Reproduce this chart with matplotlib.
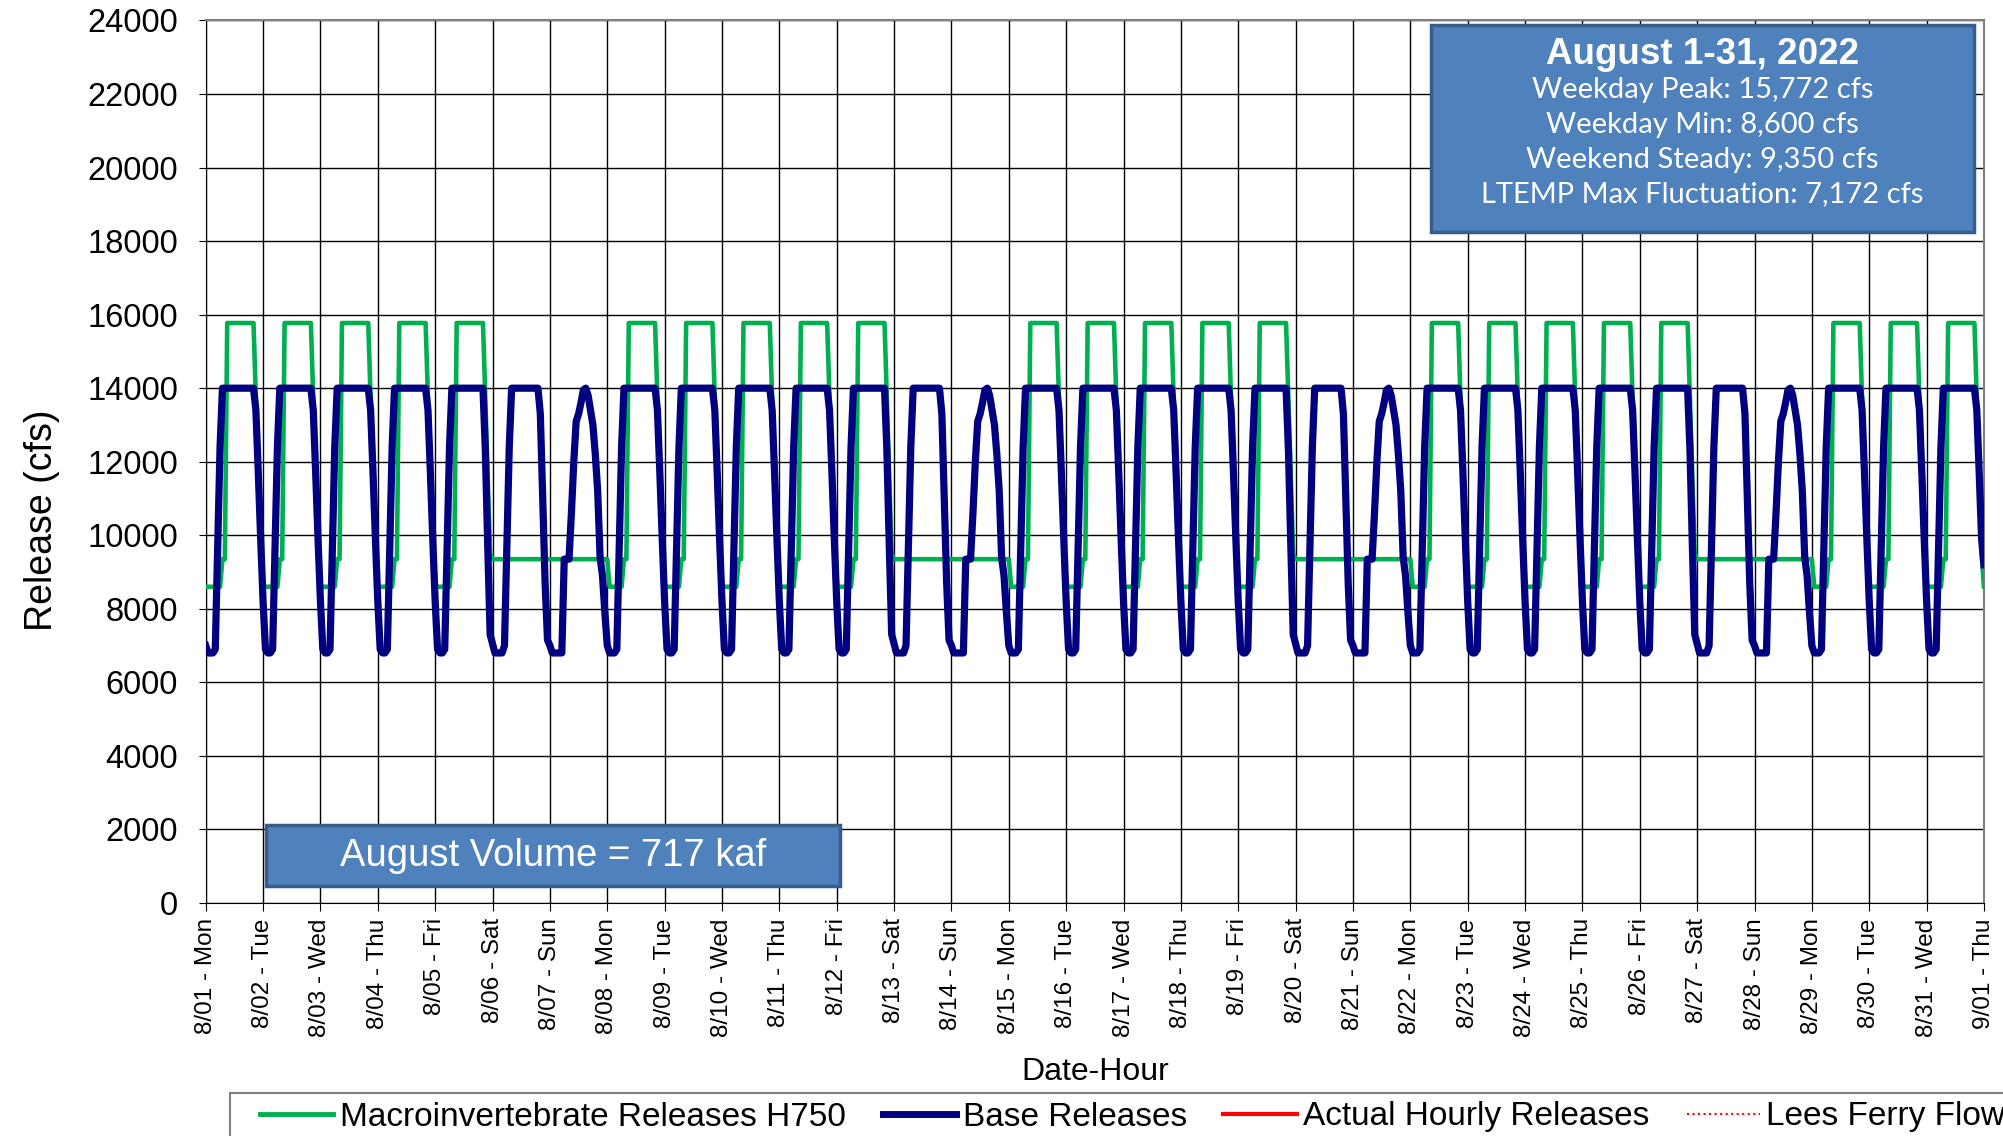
import numpy as np
import pandas as pd
import matplotlib
matplotlib.use("Agg")
import matplotlib.pyplot as plt
from matplotlib.lines import Line2D
from matplotlib.patches import Rectangle

plt.rcParams['font.family'] = ['Liberation Sans', 'DejaVu Sans']

# hourly release profiles (cfs), hours 0..23
green_weekday = [8600, 8600, 8600, 8600, 8600, 8600, 8600, 9350, 9350, 15772, 15772, 15772,
                 15772, 15772, 15772, 15772, 15772, 15772, 15772, 15772, 15772, 13700, 11500, 9500]
green_monday = [9350, 8600, 8600, 8600, 8600, 8600, 8600, 9350, 9350, 15772, 15772, 15772,
                15772, 15772, 15772, 15772, 15772, 15772, 15772, 15772, 15772, 13700, 11500, 9500]
green_weekend = [9350, 9350, 9350, 9350, 9350, 9350, 9350, 9350, 9350, 9350, 9350, 9350,
                 9350, 9350, 9350, 9350, 9350, 9350, 9350, 9350, 9350, 9350, 9350, 9350]

blue_weekday = [8200, 6900, 6800, 6800, 6900, 9600, 12400, 14000, 14000, 14000, 14000, 14000,
                14000, 14000, 14000, 14000, 14000, 14000, 14000, 14000, 14000, 13400, 11700, 9900]
blue_monday = [7000, 6800, 6800, 6800, 6900, 9600, 12400, 14000, 14000, 14000, 14000, 14000,
               14000, 14000, 14000, 14000, 14000, 14000, 14000, 14000, 14000, 13400, 11700, 9900]
blue_friday = [8200, 6900, 6800, 6800, 6900, 9600, 12400, 14000, 14000, 14000, 14000, 14000,
               14000, 14000, 14000, 14000, 14000, 14000, 14000, 14000, 14000, 12300, 9700, 7300]
blue_saturday = [7050, 6800, 6800, 6800, 6800, 7000, 9700, 12400, 14000, 14000, 14000, 14000,
                 14000, 14000, 14000, 14000, 14000, 14000, 14000, 14000, 13300, 11000, 8700, 7150]
blue_sunday = [7000, 6800, 6800, 6800, 6800, 6800, 9350, 9350, 9350, 10600, 12000, 13100,
               13300, 13600, 13950, 14000, 13800, 13400, 13000, 12200, 11200, 9400, 8900, 7900]

# value at 9/01 00:00
green_end = 8600
blue_end = 9200

dates = pd.date_range("2022-08-01", "2022-09-01", freq="D")
tick_labels = [f"{d.month}/{d.day:02d} - {d:%a}" for d in dates]

green_by_day = {"Mon": green_monday, "Tue": green_weekday, "Wed": green_weekday,
                "Thu": green_weekday, "Fri": green_weekday, "Sat": green_weekend,
                "Sun": green_weekend}
blue_by_day = {"Mon": blue_monday, "Tue": blue_weekday, "Wed": blue_weekday,
               "Thu": blue_weekday, "Fri": blue_friday, "Sat": blue_saturday,
               "Sun": blue_sunday}

green = []
blue = []
for i, d in enumerate(dates[:-1]):
    day = f"{d:%a}"
    # 8/01 has no weekend before it, so it starts from the weekday low
    green += green_weekday if i == 0 else green_by_day[day]
    blue += blue_by_day[day]
green.append(green_end)
blue.append(blue_end)
hours = np.arange(len(green))

W, H = 2003, 1136
fig = plt.figure(figsize=(W / 100, H / 100), dpi=100)
ax = fig.add_axes([0.1027, 0.2051, 0.8878, 0.7769])

ax.plot(hours, green, color='#00B050', lw=3.3, zorder=3)
ax.plot(hours, blue, color='#000080', lw=5.2, solid_joinstyle='round', zorder=4)

ax.set_xlim(0, hours[-1])
ax.set_ylim(0, 24000)
ax.set_yticks(np.arange(0, 24001, 2000))
ax.set_xticks(np.arange(0, hours[-1] + 1, 24))
ax.set_xticklabels(tick_labels, rotation=90, fontsize=17.5)
ax.tick_params(axis='y', labelsize=23.5, length=5, pad=15, direction='out')
ax.tick_params(axis='x', length=6, pad=5, direction='out')
ax.grid(True, color='black', lw=1.0)
ax.set_axisbelow(True)
for s in ['top', 'right']:
    ax.spines[s].set_color('#808080')
    ax.spines[s].set_linewidth(1.5)
for s in ['left', 'bottom']:
    ax.spines[s].set_color('black')

ax.set_ylabel("Release (cfs)", fontsize=27)
ax.yaxis.set_label_coords(-0.082, 0.434)
ax.set_xlabel("Date-Hour", fontsize=23)
ax.xaxis.set_label_coords(0.5, -0.175)


def fx(x, y):
    return x / W, 1 - y / H


# summary box, top right
x0, y0 = fx(1431, 232)
x1, y1 = fx(1974, 25)
fig.add_artist(Rectangle((x0, y0), x1 - x0, y1 - y0, transform=fig.transFigure,
                         facecolor='#4F81BD', edgecolor='#385D8A', lw=2.5, zorder=10))
cx = (1431 + 1974) / 2
fig.text(*fx(cx, 54), "August 1-31, 2022", color='white', fontsize=26.5, fontweight='bold',
         ha='center', va='center', zorder=11)
box_lines = ["Weekday Peak: 15,772 cfs", "Weekday Min: 8,600 cfs",
             "Weekend Steady: 9,350 cfs", "LTEMP Max Fluctuation: 7,172 cfs"]
for line, yy in zip(box_lines, [90, 125, 160, 194]):
    fig.text(*fx(cx, yy), line, color='white', fontsize=21, family=['Lato', 'DejaVu Sans'],
             ha='center', va='center', zorder=11)

# volume box, bottom left
x0, y0 = fx(266, 886)
x1, y1 = fx(840, 825)
fig.add_artist(Rectangle((x0, y0), x1 - x0, y1 - y0, transform=fig.transFigure,
                         facecolor='#4F81BD', edgecolor='#385D8A', lw=2.5, zorder=10))
fig.text(*fx((266 + 840) / 2, 856), "August Volume = 717 kaf", color='white', fontsize=27.5,
         ha='center', va='center', zorder=11)

# legend frame (runs off the bottom/right edge of the image)
fx0, fy0 = fx(230, 1145)
fx1, fy1 = fx(2020, 1093)
fig.add_artist(Rectangle((fx0, fy0), fx1 - fx0, fy1 - fy0, transform=fig.transFigure,
                         facecolor='white', edgecolor='#808080', lw=1.5, zorder=5))

handles = [Line2D([], [], color='#00B050', lw=3.5),
           Line2D([], [], color='#000080', lw=5),
           Line2D([], [], color='red', lw=3),
           Line2D([], [], color='red', lw=1.5, ls=':')]
labels = ["Macroinvertebrate Releases H750", "Base Releases",
          "Actual Hourly Releases", "Lees Ferry Flow"]
leg = fig.legend(handles, labels, loc='center left', bbox_to_anchor=fx(260, 1117), ncol=4,
                 fontsize=24, frameon=False, borderaxespad=0, borderpad=0,
                 handlelength=2.2, handletextpad=0.2, columnspacing=1.1)
leg.set_zorder(6)

fig.savefig("out.png", dpi=100)
